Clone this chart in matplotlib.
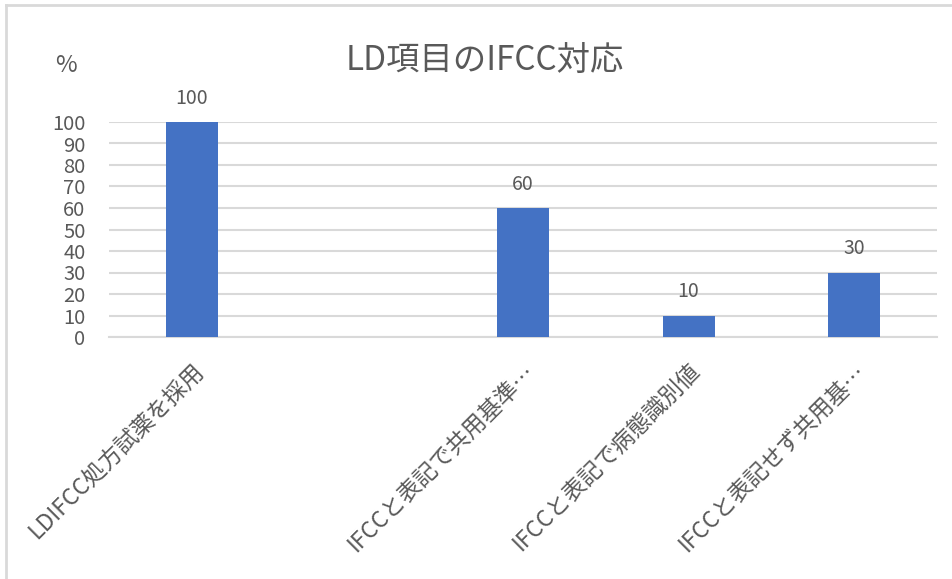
import matplotlib
matplotlib.use("Agg")
import matplotlib.pyplot as plt
from matplotlib.lines import Line2D

plt.rcParams['font.family'] = ['Noto Sans CJK JP', 'DejaVu Sans']

categories = ["LDIFCC処方試薬を採用", "", "IFCCと表記で共用基準…", "IFCCと表記で病態識別値", "IFCCと表記せず共用基…"]
values = [100, None, 60, 10, 30]
yticks = [0, 10, 20, 30, 40, 50, 60, 70, 80, 90, 100]
title = "LD項目のIFCC対応"
ylabel = "%"

gray = "#595959"
grid = "#d9d9d9"
blue = "#4472c4"

fig = plt.figure(figsize=(9.53, 5.79), dpi=100)
ax = fig.add_axes([109/953, 1-337/579, (937-109)/953, (337-122)/579])

xs = list(range(len(categories)))
for x, v in zip(xs, values):
    if v is None:
        continue
    ax.bar(x, v, width=0.315, color=blue, zorder=3)
    ax.annotate(f"{v}", (x, v), xytext=(0, 17), textcoords="offset points",
                ha="center", va="center", fontsize=14, color=gray)

ax.set_xlim(-0.5, len(categories)-0.5)
ax.set_ylim(0, 100)
ax.set_yticks(yticks)
ax.set_yticklabels([str(t) for t in yticks], fontsize=14.5, color=gray)
ax.yaxis.grid(True, color=grid, linewidth=1.5, zorder=0)
ax.set_axisbelow(True)
ax.tick_params(axis='y', length=0, pad=17)
ax.tick_params(axis='x', length=0, pad=16)
ax.set_xticks(xs)
ax.set_xticklabels(categories, rotation=45, ha="right", rotation_mode="anchor",
                   fontsize=16.5, color=gray)
for s in ["top", "right", "left"]:
    ax.spines[s].set_visible(False)
ax.spines["bottom"].set_color(grid)
ax.spines["bottom"].set_linewidth(1.5)

fig.text(485/953, 1-60/579, title, ha="center", va="center", fontsize=24, color=gray)
fig.text(66/953, 1-66/579, ylabel, ha="center", va="center", fontsize=17, color=gray)

# chart border (left and top)
fig.add_artist(Line2D([6/953, 6/953], [0, 1-5/579], transform=fig.transFigure, color=grid, linewidth=2))
fig.add_artist(Line2D([6/953, 1], [1-5/579, 1-5/579], transform=fig.transFigure, color=grid, linewidth=2))

fig.savefig("out.png", dpi=100, facecolor="white")
